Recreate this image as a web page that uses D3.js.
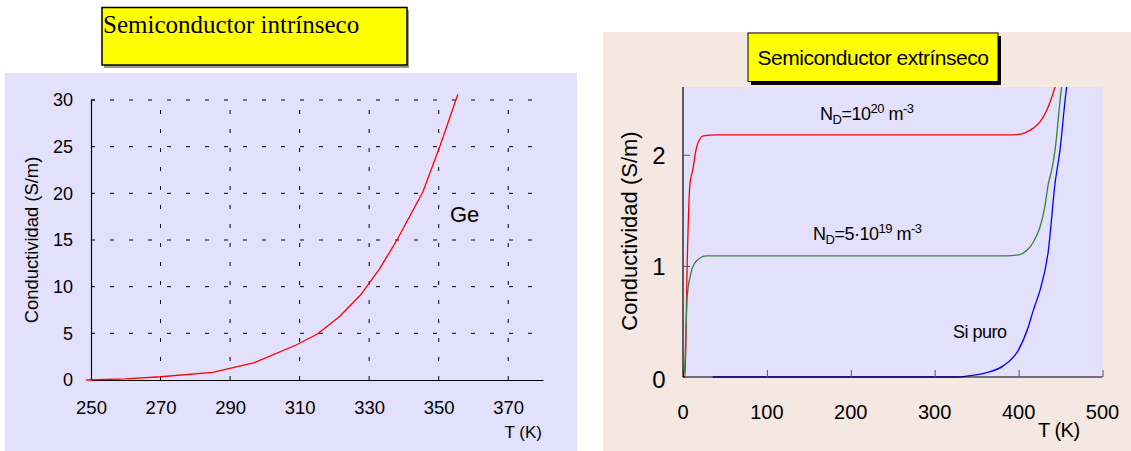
<!DOCTYPE html>
<html><head><meta charset="utf-8">
<script src="https://cdn.jsdelivr.net/npm/d3@7"></script>
<style>body{margin:0;background:#fff}svg{display:block}</style>
</head><body>
<script>
// ---- Data ----
const leftTitle = "Semiconductor intrínseco";
const rightTitle = "Semiconductor extrínseco";
const geT = [248.6, 260, 270, 285, 297, 309, 315, 321.5, 327.5, 333, 338, 345.5, 350.5, 355.5];
const geSigma = [0, 0.12, 0.35, 0.82, 1.86, 3.75, 4.9, 6.8, 9.1, 11.9, 15, 20.2, 25.2, 30.6];
const leftXTicks = [250, 270, 290, 310, 330, 350, 370];
const leftYTicks = [0, 5, 10, 15, 20, 25, 30];

const redT = [0, 2.4, 5, 8.3, 11.5, 16.3, 24, 40, 100, 200, 300, 394, 408, 417.6, 426, 433.5, 443.4, 450];
const redS = [0, 0, 1.02, 1.74, 1.86, 2.07, 2.17, 2.18, 2.18, 2.18, 2.18, 2.18, 2.2, 2.24, 2.3, 2.4, 2.61, 2.8];
const greenT = [0, 2, 5, 9, 15.5, 28, 100, 200, 300, 386, 400, 410, 418, 425.5, 431, 435.5, 439.4, 443.4, 451.3, 456];
const greenS = [0, 0.1, 0.72, 0.92, 1.04, 1.09, 1.09, 1.09, 1.09, 1.09, 1.1, 1.14, 1.22, 1.35, 1.52, 1.74, 1.86, 2.04, 2.61, 2.8];
const blueT = [35.4, 100, 200, 300, 328, 345, 361.8, 381.7, 399.6, 411.5, 417.5, 421.6, 425.5, 435.5, 443.4, 449.3, 457.3, 462];
const blueS = [0, 0, 0, 0, 0, 0.015, 0.04, 0.1, 0.24, 0.45, 0.6, 0.69, 0.78, 1.14, 1.74, 2.04, 2.61, 2.8];
const rightXTicks = [0, 100, 200, 300, 400, 500];
const rightYTicks = [0, 1, 2];

const W = 1131, H = 451;
const svg = d3.select("body").append("svg").attr("width", W).attr("height", H);
const sans = "'Liberation Sans', Arial, sans-serif";
const serif = "'Liberation Serif', 'Times New Roman', serif";
const lav = "#e3e0fb";

// ================= LEFT CHART =================
svg.append("rect").attr("x", 5).attr("y", 73).attr("width", 572).attr("height", 378).attr("fill", lav);
// title box
svg.append("rect").attr("x", 104).attr("y", 10).attr("width", 305).attr("height", 58).attr("fill", "#999");
svg.append("rect").attr("x", 102).attr("y", 7.5).attr("width", 305).attr("height", 57.5)
  .attr("fill", "#ffff00").attr("stroke", "#000").attr("stroke-width", 1.5);
svg.append("text").attr("x", 103).attr("y", 33).attr("font-family", serif).attr("font-size", 25)
  .attr("fill", "#000").text(leftTitle);

const lx = d3.scaleLinear().domain([250, 380]).range([91, 543]);
const ly = d3.scaleLinear().domain([0, 30]).range([380, 100]);
const L = svg.append("g");
// grid
L.selectAll(".hg").data(leftYTicks.filter(d => d > 0)).join("line")
  .attr("x1", lx(250)).attr("x2", lx(378.5)).attr("y1", d => ly(d)).attr("y2", d => ly(d))
  .attr("stroke", "#000").attr("stroke-width", 1).attr("stroke-dasharray", "4,15");
L.selectAll(".vg").data(leftXTicks.filter(d => d > 250)).join("line")
  .attr("x1", d => lx(d)).attr("x2", d => lx(d)).attr("y1", ly(0)).attr("y2", ly(30))
  .attr("stroke", "#000").attr("stroke-width", 1).attr("stroke-dasharray", "4,15");
// axes
const lxAxis = d3.axisBottom(lx).tickValues(leftXTicks).tickSize(0).tickPadding(21);
const gx = L.append("g").attr("transform", `translate(0,${ly(0)})`).call(lxAxis);
gx.select(".domain").attr("stroke", "#000").attr("stroke-width", 1.2);
gx.selectAll("text").attr("font-family", sans).attr("font-size", 18.5).attr("fill", "#000");
const lyAxis = d3.axisLeft(ly).tickValues(leftYTicks).tickSize(0).tickPadding(18);
const gy = L.append("g").attr("transform", `translate(${lx(250)},0)`).call(lyAxis);
gy.select(".domain").attr("stroke", "#000").attr("stroke-width", 1.2);
gy.selectAll("text").attr("font-family", sans).attr("font-size", 18).attr("fill", "#000");
L.append("line").attr("x1", lx(250)).attr("x2", lx(250) + 4).attr("y1", ly(30)).attr("y2", ly(30)).attr("stroke", "#000");
// curve
L.append("path").datum(geT.map((t, i) => [t, geSigma[i]]))
  .attr("d", d3.line().x(d => lx(d[0])).y(d => ly(d[1])))
  .attr("fill", "none").attr("stroke", "#ff0000").attr("stroke-width", 1.3);
L.append("text").attr("x", 450).attr("y", 222).attr("font-family", sans).attr("font-size", 22).text("Ge");
L.append("text").attr("x", 542).attr("y", 438).attr("text-anchor", "end").attr("font-family", sans)
  .attr("font-size", 17).text("T (K)");
L.append("text").attr("transform", `translate(38,240) rotate(-90)`).attr("text-anchor", "middle")
  .attr("font-family", sans).attr("font-size", 18.4).text("Conductividad (S/m)");

// ================= RIGHT CHART =================
svg.append("rect").attr("x", 603).attr("y", 32).attr("width", 528).attr("height", 419).attr("fill", "#f5e7e2");
const rx = d3.scaleLinear().domain([0, 500]).range([683, 1102.5]);
const ry = d3.scaleLinear().domain([0, 2.61]).range([377, 87]);
svg.append("rect").attr("x", rx(0)).attr("y", ry(2.61)).attr("width", rx(500) - rx(0)).attr("height", ry(0) - ry(2.61)).attr("fill", lav);
svg.append("defs").append("clipPath").attr("id", "rclip").append("rect")
  .attr("x", rx(0)).attr("y", ry(2.61)).attr("width", rx(500) - rx(0)).attr("height", ry(0) - ry(2.61) + 1);
const R = svg.append("g");
const rline = d3.line().x(d => rx(d[0])).y(d => ry(d[1])).curve(d3.curveMonotoneX);
const series = [[redT, redS, "#ff0000"], [greenT, greenS, "#3c7f3c"], [blueT, blueS, "#0000ff"]];
const curves = R.append("g").attr("clip-path", "url(#rclip)");
series.forEach(([t, s, c]) => {
  curves.append("path").datum(t.map((v, i) => [v, s[i]])).attr("d", rline)
    .attr("fill", "none").attr("stroke", c).attr("stroke-width", 1.3);
});
// axes
const rxAxis = d3.axisTop(rx).tickValues(rightXTicks).tickSize(7).tickFormat("");
const rgx = R.append("g").attr("transform", `translate(0,${ry(0)})`).call(rxAxis);
rgx.select(".domain").attr("stroke", "#000").attr("stroke-width", 1.2).attr("d", `M${rx(0)},0H${rx(500)}`);
rgx.selectAll(".tick line").attr("stroke", "#555");
R.selectAll(".xl").data(rightXTicks).join("text")
  .attr("x", d => rx(d)).attr("y", 419).attr("text-anchor", "middle")
  .attr("font-family", sans).attr("font-size", 20).text(d => d);
const ryAxis = d3.axisRight(ry).tickValues(rightYTicks.filter(d => d > 0)).tickSize(7).tickFormat("");
const rgy = R.append("g").attr("transform", `translate(${rx(0)},0)`).call(ryAxis);
rgy.select(".domain").attr("stroke", "#000").attr("stroke-width", 1.2).attr("d", `M0,${ry(2.61)}V${ry(0)}`);
rgy.selectAll(".tick line").attr("stroke", "#555");
R.selectAll(".yl").data(rightYTicks).join("text")
  .attr("x", 659).attr("y", d => ry(d) + 9 + (d === 0 ? 2 : 0)).attr("text-anchor", "middle")
  .attr("font-family", sans).attr("font-size", 24).text(d => d);
R.append("text").attr("x", 1038).attr("y", 437).attr("text-anchor", "start")
  .attr("font-family", sans).attr("font-size", 20).attr("letter-spacing", -0.5).text("T (K)");
R.append("text").attr("transform", `translate(637,231) rotate(-90)`).attr("text-anchor", "middle")
  .attr("font-family", sans).attr("font-size", 22).text("Conductividad (S/m)");

// labels
function ndLabel(x, y, pre, exp) {
  const t = R.append("text").attr("x", x).attr("y", y).attr("font-family", sans).attr("font-size", 18).attr("letter-spacing", -0.5);
  t.append("tspan").text("N");
  t.append("tspan").attr("dy", 4).attr("font-size", 13).text("D");
  t.append("tspan").attr("dy", -4).text(pre);
  t.append("tspan").attr("dy", -7).attr("font-size", 13).text(exp);
  t.append("tspan").attr("dy", 7).text(" m");
  t.append("tspan").attr("dy", -7).attr("font-size", 13).text("-3");
}
ndLabel(820, 120, "=10", "20");
ndLabel(813, 240, "=5·10", "19");
R.append("text").attr("x", 953).attr("y", 338).attr("font-family", sans).attr("font-size", 18).attr("letter-spacing", -0.5).text("Si puro");

// title box with shadow
svg.append("rect").attr("x", 751).attr("y", 36).attr("width", 250).attr("height", 49).attr("fill", "#000");
svg.append("rect").attr("x", 748).attr("y", 33).attr("width", 250).attr("height", 48.5)
  .attr("fill", "#ffff00").attr("stroke", "#000").attr("stroke-width", 1);
svg.append("text").attr("x", 873).attr("y", 65).attr("text-anchor", "middle").attr("font-family", sans)
  .attr("font-size", 21).attr("letter-spacing", -0.5).text(rightTitle);
</script>
</body></html>
